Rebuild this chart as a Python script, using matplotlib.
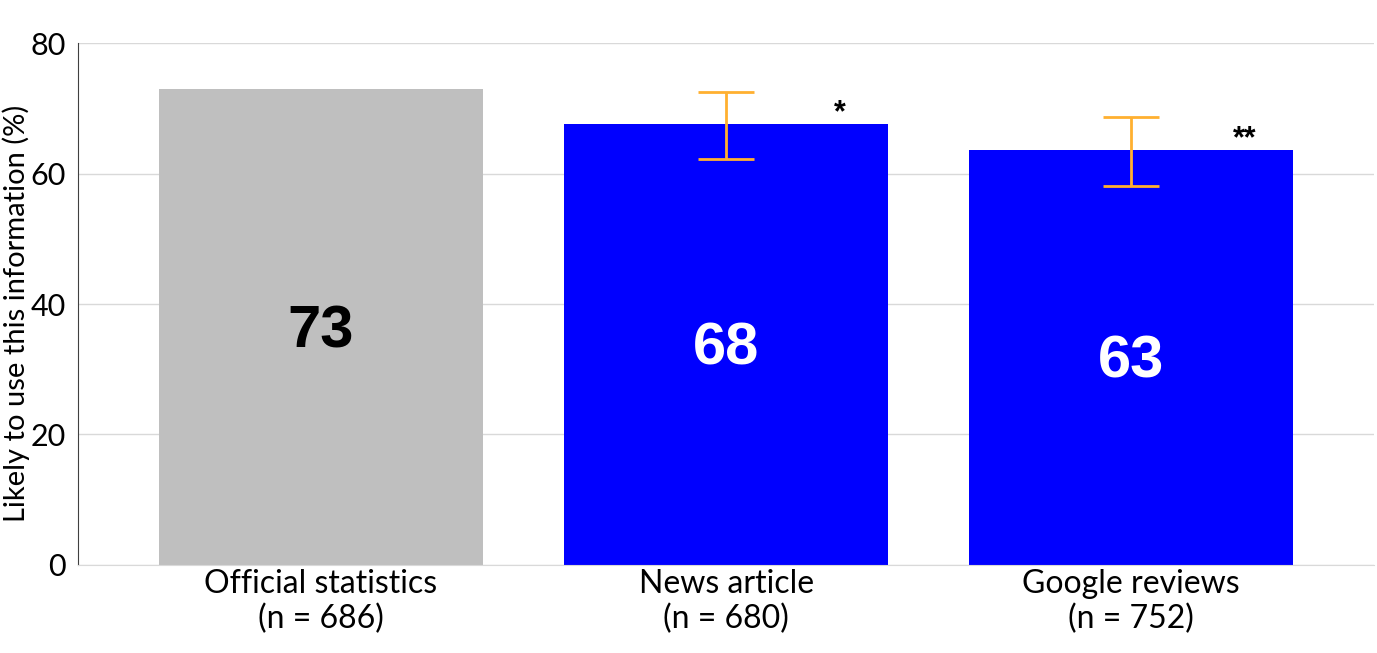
import matplotlib.pyplot as plt
import numpy as np

# data
categories = ['Official statistics\n(n = 686)', 'News article\n(n = 680)', 'Google reviews\n(n = 752)']
values = [72.9, 67.6, 63.6]
labels = ['73', '68', '63']
err_low = [None, 62.2, 58.1]
err_high = [None, 72.5, 68.7]
stars = ['', '*', '**']

bar_colors = ['#bfbfbf', '#0000ff', '#0000ff']
label_colors = ['black', 'white', 'white']

fig = plt.figure(figsize=(13.77, 6.53), dpi=100)
ax = fig.add_axes([0.0566, 0.1348, 0.9414, 0.7993])

x = np.arange(len(categories))
ax.bar(x, values, width=0.8, color=bar_colors, zorder=2)

# error bars only for the comparison bars
for i in range(len(x)):
    if err_low[i] is None:
        continue
    mid = (err_low[i] + err_high[i]) / 2
    half = (err_high[i] - err_low[i]) / 2
    ax.errorbar(x[i], mid, yerr=half, fmt='none', ecolor='#ffb030',
                elinewidth=2, capsize=20, capthick=2, zorder=3)
    ax.text(x[i] + 0.28, values[i] + 1.6, stars[i], ha='center', va='center',
            fontsize=22, fontweight='bold', family='Liberation Sans')

for i in range(len(x)):
    ax.text(x[i], values[i] / 2 - 0.7, labels[i], ha='center', va='center',
            fontsize=43, fontweight='bold', color=label_colors[i],
            family='Liberation Sans', zorder=4)

ax.set_xlim(-0.6, 2.6)
ax.set_ylim(0, 80)
ax.set_yticks([0, 20, 40, 60, 80])
ax.set_xticks(x)
ax.set_xticklabels(categories, fontsize=23, family='Lato', linespacing=1.2)
ax.tick_params(axis='y', labelsize=22, length=0, pad=9)
ax.tick_params(axis='x', length=0, pad=3)
for t in ax.get_yticklabels():
    t.set_family('Lato')
ax.set_ylabel('Likely to use this information (%)', fontsize=21, family='Lato')
ax.yaxis.set_label_coords(-0.037, 0.483)

ax.yaxis.grid(True, color='#d9d9d9', linewidth=1, zorder=0)
ax.set_axisbelow(True)
ax.spines['top'].set_visible(False)
ax.spines['right'].set_visible(False)
ax.spines['bottom'].set_color('#d9d9d9')
ax.spines['left'].set_color('#404040')

plt.savefig('out.png', dpi=100)
